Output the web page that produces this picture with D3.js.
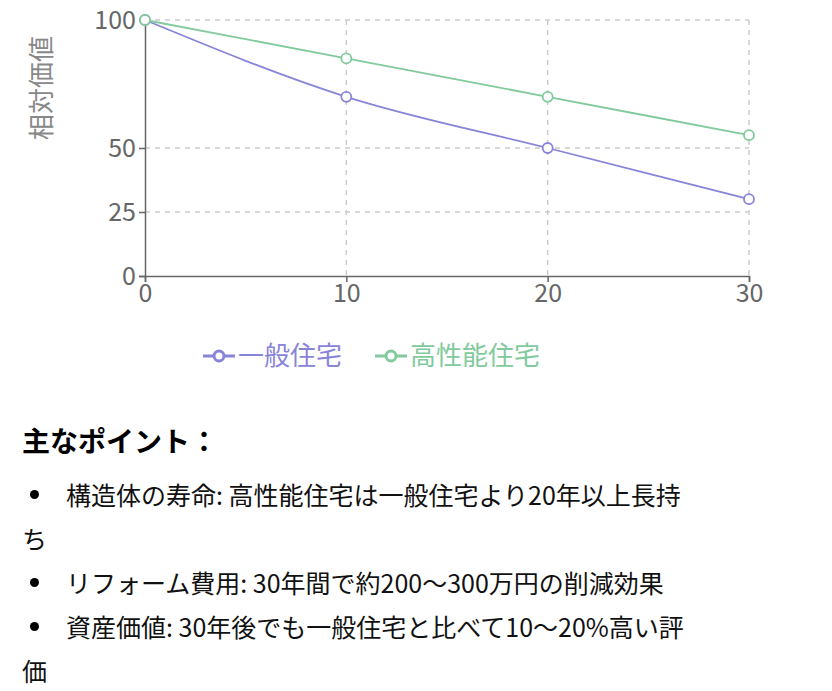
<!DOCTYPE html>
<html><head><meta charset="utf-8">
<script src="https://cdn.jsdelivr.net/npm/d3@7"></script>
<style>
body{margin:0;font-family:"Noto Sans CJK JP","Noto Sans",sans-serif;background:#fff;}
h3{margin:0;position:absolute;left:22px;top:420px;font-size:28px;font-weight:bold;color:#000;}
ul{position:absolute;left:22px;top:472px;width:790px;margin:0;padding:0;list-style:none;font-size:25px;line-height:44px;color:#111;}
ul li{position:relative;padding-left:44px;}
ul li:before{content:"";position:absolute;left:8px;top:18px;width:9px;height:9px;border-radius:50%;background:#000;}
ul li.wrap{padding-left:0;text-indent:44px;}
</style></head><body>
<div id="chart"></div>
<h3>主なポイント：</h3>
<ul>
<li class="wrap">構造体の寿命: 高性能住宅は一般住宅より20年以上長持<br>ち</li>
<li>リフォーム費用: 30年間で約200～300万円の削減効果</li>
<li class="wrap">資産価値: 30年後でも一般住宅と比べて10～20%高い評<br>価</li>
</ul>
<script>
const years = [0, 10, 20, 30];
const general = [100, 70, 50, 30];
const highPerf = [100, 85, 70, 55];
const yTicks = [0, 25, 50, 100];
const seriesNames = ["一般住宅", "高性能住宅"];
const colors = ["#8884d8", "#82ca9d"];

const svg = d3.select("#chart").append("svg").attr("width", 832).attr("height", 400)
  .style("position","absolute").style("left",0).style("top",0);
const x = d3.scaleLinear().domain([0, 30]).range([145, 749]);
const y = d3.scaleLinear().domain([0, 100]).range([276, 20]);

// grid
svg.append("g").selectAll("line").data(yTicks.filter(d => d > 0)).enter().append("line")
  .attr("x1", 145).attr("x2", 749).attr("y1", d => y(d)).attr("y2", d => y(d))
  .attr("stroke", "#ccc").attr("stroke-width", 1.5).attr("stroke-dasharray", "5 5");
svg.append("g").selectAll("line").data(years.filter(d => d > 0)).enter().append("line")
  .attr("x1", d => x(d)).attr("x2", d => x(d)).attr("y1", 20).attr("y2", 276)
  .attr("stroke", "#ccc").attr("stroke-width", 1.5).attr("stroke-dasharray", "5 5");

// axes
const xa = svg.append("g").attr("transform", "translate(0,276)")
  .call(d3.axisBottom(x).tickValues(years).tickSizeOuter(0).tickSize(6).tickPadding(2));
const ya = svg.append("g").attr("transform", "translate(145,0)")
  .call(d3.axisLeft(y).tickValues(yTicks).tickSizeOuter(0).tickSize(6).tickPadding(3));
[xa, ya].forEach(a => {
  a.selectAll("path,line").attr("stroke", "#666").attr("stroke-width", 1.5);
  a.selectAll("text").attr("fill", "#666").style("font-size", "25px")
    .style("font-family", '"Noto Sans CJK JP",sans-serif');
});

svg.append("text").attr("transform", "translate(42,88) rotate(-90)")
  .attr("text-anchor", "middle").attr("dy", "0.35em")
  .attr("fill", "#888").style("font-size", "26px").text("相対価値");

// lines
[general, highPerf].forEach((vals, i) => {
  const pts = years.map((yr, j) => [yr, vals[j]]);
  svg.append("path").datum(pts).attr("fill", "none").attr("stroke", colors[i]).attr("stroke-width", 1.8)
    .attr("d", d3.line().x(d => x(d[0])).y(d => y(d[1])).curve(d3.curveMonotoneX));
  svg.append("g").selectAll("circle").data(pts).enter().append("circle")
    .attr("cx", d => x(d[0])).attr("cy", d => y(d[1])).attr("r", 5)
    .attr("fill", "#fff").attr("stroke", colors[i]).attr("stroke-width", 1.8);
});

// legend
const lx = [203, 375];
seriesNames.forEach((n, i) => {
  const g = svg.append("g").attr("transform", `translate(${lx[i]},356)`);
  g.append("line").attr("x1", 0).attr("x2", 32).attr("stroke", colors[i]).attr("stroke-width", 3);
  g.append("circle").attr("cx", 16).attr("r", 5).attr("fill", "#fff").attr("stroke", colors[i]).attr("stroke-width", 3);
  g.append("text").attr("x", 35).attr("dy", "0.35em").attr("fill", colors[i])
    .style("font-size", "26px").text(n);
});
</script>
</body></html>
